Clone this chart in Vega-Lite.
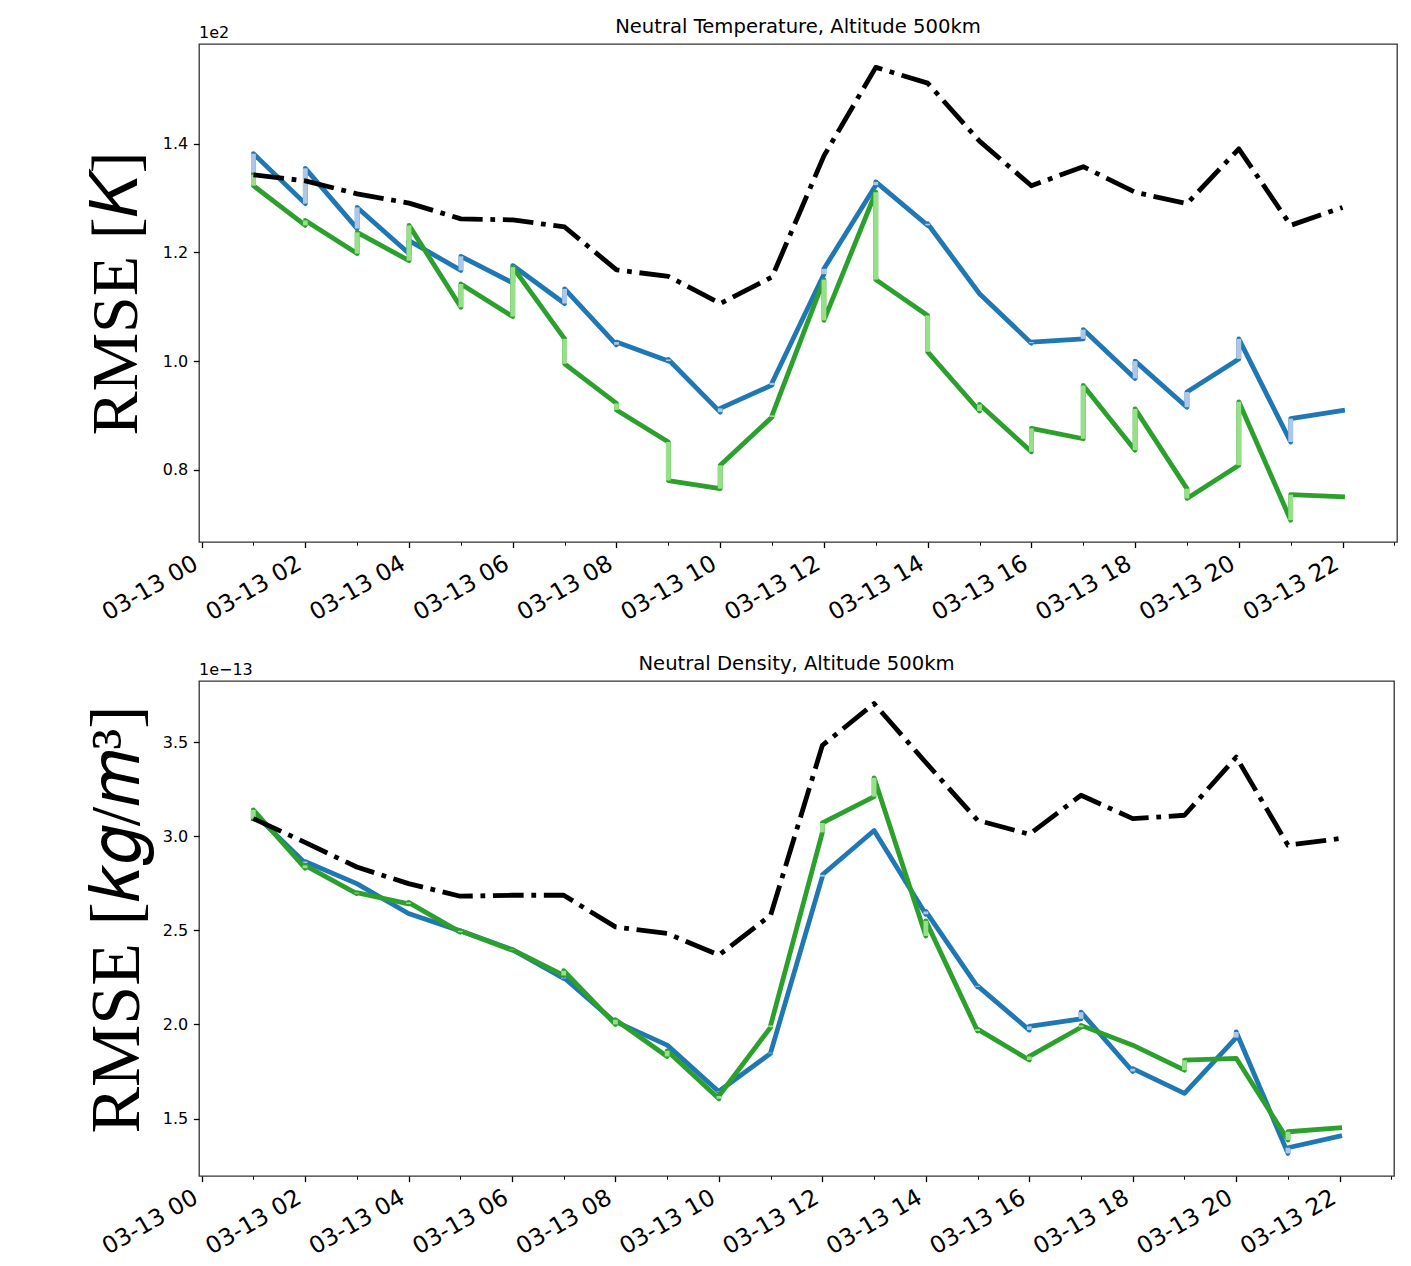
{
  "$schema": "https://vega.github.io/schema/vega-lite/v6.json",
  "background": "white",
  "padding": {"left": 81, "top": 16, "right": 10, "bottom": 0},
  "spacing": 28,
  "config": {
    "font": "DejaVu Sans",
    "view": {"stroke": "#333", "strokeWidth": 1.3},
    "axis": {"grid": false, "domain": false, "tickColor": "#000", "tickWidth": 1.3, "labelColor": "#000", "labelFont": "DejaVu Sans", "titleColor": "#000"},
    "axisY": {"labelFontSize": 16, "tickSize": 5.6, "labelPadding": 5.6, "titleFont": "Liberation Serif", "titleFontSize": 66, "titleFontWeight": "normal", "titlePadding": 12},
    "axisX": {"labelFontSize": 23.5, "labelAngle": -30, "labelAlign": "right", "labelBaseline": "top", "labelPadding": 3.5, "labelOffset": -12, "labelOverlap": false, "labelFlush": false, "labelBound": false},
    "title": {"font": "DejaVu Sans", "fontSize": 19.6, "fontWeight": "normal", "color": "#000", "offset": -13}
  },
  "datasets": {
    "temp_base": [
      {"time": "2015-03-13T01:00:00", "rmse": 134.3},
      {"time": "2015-03-13T02:00:00", "rmse": 133.2},
      {"time": "2015-03-13T03:00:00", "rmse": 130.8},
      {"time": "2015-03-13T04:00:00", "rmse": 129.1},
      {"time": "2015-03-13T05:00:00", "rmse": 126.2},
      {"time": "2015-03-13T06:00:00", "rmse": 126.0},
      {"time": "2015-03-13T07:00:00", "rmse": 124.7},
      {"time": "2015-03-13T08:00:00", "rmse": 116.8},
      {"time": "2015-03-13T09:00:00", "rmse": 115.6},
      {"time": "2015-03-13T10:00:00", "rmse": 110.6},
      {"time": "2015-03-13T11:00:00", "rmse": 115.5},
      {"time": "2015-03-13T12:00:00", "rmse": 137.8},
      {"time": "2015-03-13T13:00:00", "rmse": 154.1},
      {"time": "2015-03-13T14:00:00", "rmse": 151.2},
      {"time": "2015-03-13T15:00:00", "rmse": 140.5},
      {"time": "2015-03-13T16:00:00", "rmse": 132.3},
      {"time": "2015-03-13T17:00:00", "rmse": 135.8},
      {"time": "2015-03-13T18:00:00", "rmse": 131.1},
      {"time": "2015-03-13T19:00:00", "rmse": 129.0},
      {"time": "2015-03-13T20:00:00", "rmse": 139.1},
      {"time": "2015-03-13T21:00:00", "rmse": 125.0},
      {"time": "2015-03-13T22:00:00", "rmse": 128.3}
    ],
    "temp_da": [
      {"time": "2015-03-13T01:00:00", "run": "A", "forecast": 134.3, "update": 138.2},
      {"time": "2015-03-13T02:00:00", "run": "A", "forecast": 129.0, "update": 135.5},
      {"time": "2015-03-13T03:00:00", "run": "A", "forecast": 124.4, "update": 128.3},
      {"time": "2015-03-13T04:00:00", "run": "A", "forecast": 119.8, "update": 122.2},
      {"time": "2015-03-13T05:00:00", "run": "A", "forecast": 116.7, "update": 119.3},
      {"time": "2015-03-13T06:00:00", "run": "A", "forecast": 114.4, "update": 117.6},
      {"time": "2015-03-13T07:00:00", "run": "A", "forecast": 110.6, "update": 113.3},
      {"time": "2015-03-13T08:00:00", "run": "A", "forecast": 103.0, "update": 103.5},
      {"time": "2015-03-13T09:00:00", "run": "A", "forecast": 100.0, "update": 100.3},
      {"time": "2015-03-13T10:00:00", "run": "A", "forecast": 90.6, "update": 91.3},
      {"time": "2015-03-13T11:00:00", "run": "A", "forecast": 95.6, "update": 96.0},
      {"time": "2015-03-13T12:00:00", "run": "A", "forecast": 116.0, "update": 117.0},
      {"time": "2015-03-13T13:00:00", "run": "A", "forecast": 132.4, "update": 133.0},
      {"time": "2015-03-13T14:00:00", "run": "A", "forecast": 125.0, "update": 125.3},
      {"time": "2015-03-13T15:00:00", "run": "A", "forecast": 112.4, "update": 112.4},
      {"time": "2015-03-13T16:00:00", "run": "A", "forecast": 103.3, "update": 103.5},
      {"time": "2015-03-13T17:00:00", "run": "A", "forecast": 104.1, "update": 105.8},
      {"time": "2015-03-13T18:00:00", "run": "A", "forecast": 96.8, "update": 100.0},
      {"time": "2015-03-13T19:00:00", "run": "A", "forecast": 91.5, "update": 94.3},
      {"time": "2015-03-13T20:00:00", "run": "A", "forecast": 100.4, "update": 104.1},
      {"time": "2015-03-13T21:00:00", "run": "A", "forecast": 85.1, "update": 89.4},
      {"time": "2015-03-13T22:00:00", "run": "A", "forecast": 90.9, "update": 90.9},
      {"time": "2015-03-13T01:00:00", "run": "B", "forecast": 134.3, "update": 132.3},
      {"time": "2015-03-13T02:00:00", "run": "B", "forecast": 125.0, "update": 125.9},
      {"time": "2015-03-13T03:00:00", "run": "B", "forecast": 119.8, "update": 123.7},
      {"time": "2015-03-13T04:00:00", "run": "B", "forecast": 118.5, "update": 125.0},
      {"time": "2015-03-13T05:00:00", "run": "B", "forecast": 109.9, "update": 114.2},
      {"time": "2015-03-13T06:00:00", "run": "B", "forecast": 108.2, "update": 117.3},
      {"time": "2015-03-13T07:00:00", "run": "B", "forecast": 104.1, "update": 99.5},
      {"time": "2015-03-13T08:00:00", "run": "B", "forecast": 92.2, "update": 91.0},
      {"time": "2015-03-13T09:00:00", "run": "B", "forecast": 85.1, "update": 78.0},
      {"time": "2015-03-13T10:00:00", "run": "B", "forecast": 76.5, "update": 80.8},
      {"time": "2015-03-13T11:00:00", "run": "B", "forecast": 89.7, "update": 90.0},
      {"time": "2015-03-13T12:00:00", "run": "B", "forecast": 115.0, "update": 107.5},
      {"time": "2015-03-13T13:00:00", "run": "B", "forecast": 131.1, "update": 115.0},
      {"time": "2015-03-13T14:00:00", "run": "B", "forecast": 108.4, "update": 101.7},
      {"time": "2015-03-13T15:00:00", "run": "B", "forecast": 90.8, "update": 92.0},
      {"time": "2015-03-13T16:00:00", "run": "B", "forecast": 83.3, "update": 87.6},
      {"time": "2015-03-13T17:00:00", "run": "B", "forecast": 85.7, "update": 95.5},
      {"time": "2015-03-13T18:00:00", "run": "B", "forecast": 83.6, "update": 91.2},
      {"time": "2015-03-13T19:00:00", "run": "B", "forecast": 76.5, "update": 74.7},
      {"time": "2015-03-13T20:00:00", "run": "B", "forecast": 80.8, "update": 92.5},
      {"time": "2015-03-13T21:00:00", "run": "B", "forecast": 70.7, "update": 75.4},
      {"time": "2015-03-13T22:00:00", "run": "B", "forecast": 75.0, "update": 75.0}
    ],
    "dens_base": [
      {"time": "2015-03-13T01:00:00", "rmse": 3.093e-13},
      {"time": "2015-03-13T02:00:00", "rmse": 2.967e-13},
      {"time": "2015-03-13T03:00:00", "rmse": 2.836e-13},
      {"time": "2015-03-13T04:00:00", "rmse": 2.748e-13},
      {"time": "2015-03-13T05:00:00", "rmse": 2.681e-13},
      {"time": "2015-03-13T06:00:00", "rmse": 2.686e-13},
      {"time": "2015-03-13T07:00:00", "rmse": 2.686e-13},
      {"time": "2015-03-13T08:00:00", "rmse": 2.518e-13},
      {"time": "2015-03-13T09:00:00", "rmse": 2.483e-13},
      {"time": "2015-03-13T10:00:00", "rmse": 2.368e-13},
      {"time": "2015-03-13T11:00:00", "rmse": 2.580e-13},
      {"time": "2015-03-13T12:00:00", "rmse": 3.482e-13},
      {"time": "2015-03-13T13:00:00", "rmse": 3.704e-13},
      {"time": "2015-03-13T14:00:00", "rmse": 3.391e-13},
      {"time": "2015-03-13T15:00:00", "rmse": 3.084e-13},
      {"time": "2015-03-13T16:00:00", "rmse": 3.010e-13},
      {"time": "2015-03-13T17:00:00", "rmse": 3.217e-13},
      {"time": "2015-03-13T18:00:00", "rmse": 3.093e-13},
      {"time": "2015-03-13T19:00:00", "rmse": 3.111e-13},
      {"time": "2015-03-13T20:00:00", "rmse": 3.420e-13},
      {"time": "2015-03-13T21:00:00", "rmse": 2.952e-13},
      {"time": "2015-03-13T22:00:00", "rmse": 2.987e-13}
    ],
    "dens_da": [
      {"time": "2015-03-13T01:00:00", "run": "A", "forecast": 3.093e-13, "update": 3.125e-13},
      {"time": "2015-03-13T02:00:00", "run": "A", "forecast": 2.857e-13, "update": 2.865e-13},
      {"time": "2015-03-13T03:00:00", "run": "A", "forecast": 2.748e-13, "update": 2.748e-13},
      {"time": "2015-03-13T04:00:00", "run": "A", "forecast": 2.589e-13, "update": 2.589e-13},
      {"time": "2015-03-13T05:00:00", "run": "A", "forecast": 2.497e-13, "update": 2.497e-13},
      {"time": "2015-03-13T06:00:00", "run": "A", "forecast": 2.398e-13, "update": 2.398e-13},
      {"time": "2015-03-13T07:00:00", "run": "A", "forecast": 2.244e-13, "update": 2.250e-13},
      {"time": "2015-03-13T08:00:00", "run": "A", "forecast": 2.010e-13, "update": 2.015e-13},
      {"time": "2015-03-13T09:00:00", "run": "A", "forecast": 1.890e-13, "update": 1.890e-13},
      {"time": "2015-03-13T10:00:00", "run": "A", "forecast": 1.642e-13, "update": 1.645e-13},
      {"time": "2015-03-13T11:00:00", "run": "A", "forecast": 1.846e-13, "update": 1.850e-13},
      {"time": "2015-03-13T12:00:00", "run": "A", "forecast": 2.785e-13, "update": 2.795e-13},
      {"time": "2015-03-13T13:00:00", "run": "A", "forecast": 3.030e-13, "update": 3.030e-13},
      {"time": "2015-03-13T14:00:00", "run": "A", "forecast": 2.585e-13, "update": 2.600e-13},
      {"time": "2015-03-13T15:00:00", "run": "A", "forecast": 2.200e-13, "update": 2.205e-13},
      {"time": "2015-03-13T16:00:00", "run": "A", "forecast": 1.970e-13, "update": 1.990e-13},
      {"time": "2015-03-13T17:00:00", "run": "A", "forecast": 2.030e-13, "update": 2.065e-13},
      {"time": "2015-03-13T18:00:00", "run": "A", "forecast": 1.750e-13, "update": 1.765e-13},
      {"time": "2015-03-13T19:00:00", "run": "A", "forecast": 1.634e-13, "update": 1.634e-13},
      {"time": "2015-03-13T20:00:00", "run": "A", "forecast": 1.930e-13, "update": 1.960e-13},
      {"time": "2015-03-13T21:00:00", "run": "A", "forecast": 1.315e-13, "update": 1.345e-13},
      {"time": "2015-03-13T22:00:00", "run": "A", "forecast": 1.407e-13, "update": 1.407e-13},
      {"time": "2015-03-13T01:00:00", "run": "B", "forecast": 3.093e-13, "update": 3.140e-13},
      {"time": "2015-03-13T02:00:00", "run": "B", "forecast": 2.830e-13, "update": 2.845e-13},
      {"time": "2015-03-13T03:00:00", "run": "B", "forecast": 2.695e-13, "update": 2.700e-13},
      {"time": "2015-03-13T04:00:00", "run": "B", "forecast": 2.640e-13, "update": 2.648e-13},
      {"time": "2015-03-13T05:00:00", "run": "B", "forecast": 2.490e-13, "update": 2.497e-13},
      {"time": "2015-03-13T06:00:00", "run": "B", "forecast": 2.395e-13, "update": 2.398e-13},
      {"time": "2015-03-13T07:00:00", "run": "B", "forecast": 2.260e-13, "update": 2.285e-13},
      {"time": "2015-03-13T08:00:00", "run": "B", "forecast": 2.000e-13, "update": 2.025e-13},
      {"time": "2015-03-13T09:00:00", "run": "B", "forecast": 1.830e-13, "update": 1.860e-13},
      {"time": "2015-03-13T10:00:00", "run": "B", "forecast": 1.605e-13, "update": 1.620e-13},
      {"time": "2015-03-13T11:00:00", "run": "B", "forecast": 1.985e-13, "update": 1.995e-13},
      {"time": "2015-03-13T12:00:00", "run": "B", "forecast": 3.020e-13, "update": 3.070e-13},
      {"time": "2015-03-13T13:00:00", "run": "B", "forecast": 3.210e-13, "update": 3.310e-13},
      {"time": "2015-03-13T14:00:00", "run": "B", "forecast": 2.470e-13, "update": 2.550e-13},
      {"time": "2015-03-13T15:00:00", "run": "B", "forecast": 1.965e-13, "update": 1.975e-13},
      {"time": "2015-03-13T16:00:00", "run": "B", "forecast": 1.811e-13, "update": 1.830e-13},
      {"time": "2015-03-13T17:00:00", "run": "B", "forecast": 1.985e-13, "update": 1.995e-13},
      {"time": "2015-03-13T18:00:00", "run": "B", "forecast": 1.890e-13, "update": 1.890e-13},
      {"time": "2015-03-13T19:00:00", "run": "B", "forecast": 1.757e-13, "update": 1.810e-13},
      {"time": "2015-03-13T20:00:00", "run": "B", "forecast": 1.820e-13, "update": 1.820e-13},
      {"time": "2015-03-13T21:00:00", "run": "B", "forecast": 1.386e-13, "update": 1.430e-13},
      {"time": "2015-03-13T22:00:00", "run": "B", "forecast": 1.451e-13, "update": 1.451e-13}
    ]
  },
  "vconcat": [
    {
      "width": 1198,
      "height": 498,
      "title": "Neutral Temperature, Altitude 500km",
      "layer": [
        {
          "data": {"name": "temp_da"},
          "transform": [{"filter": "datum.run == 'A'"}, {"fold": ["forecast", "update"], "as": ["stage", "rmse"]}],
          "mark": {"type": "line", "color": "#1f77b4", "strokeWidth": 4.8, "strokeJoin": "round", "strokeCap": "square"},
          "encoding": {
            "x": {"field": "time", "type": "temporal", "title": null,
              "scale": {"domain": [{"year": 2015, "month": 3, "date": 12, "hours": 23, "minutes": 57}, {"year": 2015, "month": 3, "date": 13, "hours": 23, "minutes": 3}], "nice": false},
              "axis": {"title": null,
                "values": [{"year": 2015, "month": 3, "date": 13, "hours": 0}, {"year": 2015, "month": 3, "date": 13, "hours": 1}, {"year": 2015, "month": 3, "date": 13, "hours": 2}, {"year": 2015, "month": 3, "date": 13, "hours": 3}, {"year": 2015, "month": 3, "date": 13, "hours": 4}, {"year": 2015, "month": 3, "date": 13, "hours": 5}, {"year": 2015, "month": 3, "date": 13, "hours": 6}, {"year": 2015, "month": 3, "date": 13, "hours": 7}, {"year": 2015, "month": 3, "date": 13, "hours": 8}, {"year": 2015, "month": 3, "date": 13, "hours": 9}, {"year": 2015, "month": 3, "date": 13, "hours": 10}, {"year": 2015, "month": 3, "date": 13, "hours": 11}, {"year": 2015, "month": 3, "date": 13, "hours": 12}, {"year": 2015, "month": 3, "date": 13, "hours": 13}, {"year": 2015, "month": 3, "date": 13, "hours": 14}, {"year": 2015, "month": 3, "date": 13, "hours": 15}, {"year": 2015, "month": 3, "date": 13, "hours": 16}, {"year": 2015, "month": 3, "date": 13, "hours": 17}, {"year": 2015, "month": 3, "date": 13, "hours": 18}, {"year": 2015, "month": 3, "date": 13, "hours": 19}, {"year": 2015, "month": 3, "date": 13, "hours": 20}, {"year": 2015, "month": 3, "date": 13, "hours": 21}, {"year": 2015, "month": 3, "date": 13, "hours": 22}, {"year": 2015, "month": 3, "date": 13, "hours": 23}],
                "labelExpr": "hours(datum.value) % 2 == 0 ? timeFormat(datum.value, '%m-%d %H') : ''",
                "tickSize": {"condition": {"test": "hours(datum.value) % 2 == 1", "value": 3.2}, "value": 5.6},
                "tickWidth": {"condition": {"test": "hours(datum.value) % 2 == 1", "value": 1.0}, "value": 1.3}
              }
            },
            "y": {"field": "rmse", "type": "quantitative", "title": "RMSE [𝐾]",
              "scale": {"domain": [66.68, 158.4], "nice": false, "zero": false},
              "axis": {"title": "RMSE [𝐾]", "values": [80, 100, 120, 140], "labelExpr": "format(datum.value / 100, '.1f')"}
            },
            "order": [{"field": "time", "type": "temporal"}, {"field": "stage", "type": "ordinal"}]
          }
        },
        {
          "data": {"name": "temp_da"},
          "transform": [{"filter": "datum.run == 'A'"}],
          "mark": {"type": "rule", "color": "#aec7e8", "strokeWidth": 4.8, "strokeCap": "butt"},
          "encoding": {
            "x": {"field": "time", "type": "temporal", "title": null},
            "y": {"field": "forecast", "type": "quantitative", "title": "RMSE [𝐾]"},
            "y2": {"field": "update"}
          }
        },
        {
          "data": {"name": "temp_da"},
          "transform": [{"filter": "datum.run == 'B'"}, {"fold": ["forecast", "update"], "as": ["stage", "rmse"]}],
          "mark": {"type": "line", "color": "#2ca02c", "strokeWidth": 4.8, "strokeJoin": "round", "strokeCap": "square"},
          "encoding": {
            "x": {"field": "time", "type": "temporal", "title": null},
            "y": {"field": "rmse", "type": "quantitative", "title": "RMSE [𝐾]"},
            "order": [{"field": "time", "type": "temporal"}, {"field": "stage", "type": "ordinal"}]
          }
        },
        {
          "data": {"name": "temp_da"},
          "transform": [{"filter": "datum.run == 'B'"}],
          "mark": {"type": "rule", "color": "#98df8a", "strokeWidth": 4.8, "strokeCap": "butt"},
          "encoding": {
            "x": {"field": "time", "type": "temporal", "title": null},
            "y": {"field": "forecast", "type": "quantitative", "title": "RMSE [𝐾]"},
            "y2": {"field": "update"}
          }
        },
        {
          "data": {"name": "temp_base"},
          "mark": {"type": "line", "color": "#000", "strokeWidth": 4.8, "strokeDash": [30.7, 7.7, 4.8, 7.7], "strokeCap": "butt", "strokeJoin": "round"},
          "encoding": {
            "x": {"field": "time", "type": "temporal", "title": null},
            "y": {"field": "rmse", "type": "quantitative", "title": "RMSE [𝐾]"}
          }
        },
        {
          "data": {"values": [{}]},
          "mark": {"type": "text", "text": "1e2", "align": "left", "baseline": "alphabetic", "dy": -6, "fontSize": 16, "color": "#000"},
          "encoding": {
            "x": {"datum": {"year": 2015, "month": 3, "date": 12, "hours": 23, "minutes": 57}, "type": "temporal"},
            "y": {"datum": 158.4, "type": "quantitative"}
          }
        }
      ]
    },
    {
      "width": 1195,
      "height": 495,
      "title": "Neutral Density, Altitude 500km",
      "layer": [
        {
          "data": {"name": "dens_da"},
          "transform": [{"filter": "datum.run == 'A'"}, {"fold": ["forecast", "update"], "as": ["stage", "rmse"]}],
          "mark": {"type": "line", "color": "#1f77b4", "strokeWidth": 4.8, "strokeJoin": "round", "strokeCap": "square"},
          "encoding": {
            "x": {"field": "time", "type": "temporal", "title": null,
              "scale": {"domain": [{"year": 2015, "month": 3, "date": 12, "hours": 23, "minutes": 57}, {"year": 2015, "month": 3, "date": 13, "hours": 23, "minutes": 3}], "nice": false},
              "axis": {"title": null,
                "values": [{"year": 2015, "month": 3, "date": 13, "hours": 0}, {"year": 2015, "month": 3, "date": 13, "hours": 1}, {"year": 2015, "month": 3, "date": 13, "hours": 2}, {"year": 2015, "month": 3, "date": 13, "hours": 3}, {"year": 2015, "month": 3, "date": 13, "hours": 4}, {"year": 2015, "month": 3, "date": 13, "hours": 5}, {"year": 2015, "month": 3, "date": 13, "hours": 6}, {"year": 2015, "month": 3, "date": 13, "hours": 7}, {"year": 2015, "month": 3, "date": 13, "hours": 8}, {"year": 2015, "month": 3, "date": 13, "hours": 9}, {"year": 2015, "month": 3, "date": 13, "hours": 10}, {"year": 2015, "month": 3, "date": 13, "hours": 11}, {"year": 2015, "month": 3, "date": 13, "hours": 12}, {"year": 2015, "month": 3, "date": 13, "hours": 13}, {"year": 2015, "month": 3, "date": 13, "hours": 14}, {"year": 2015, "month": 3, "date": 13, "hours": 15}, {"year": 2015, "month": 3, "date": 13, "hours": 16}, {"year": 2015, "month": 3, "date": 13, "hours": 17}, {"year": 2015, "month": 3, "date": 13, "hours": 18}, {"year": 2015, "month": 3, "date": 13, "hours": 19}, {"year": 2015, "month": 3, "date": 13, "hours": 20}, {"year": 2015, "month": 3, "date": 13, "hours": 21}, {"year": 2015, "month": 3, "date": 13, "hours": 22}, {"year": 2015, "month": 3, "date": 13, "hours": 23}],
                "labelExpr": "hours(datum.value) % 2 == 0 ? timeFormat(datum.value, '%m-%d %H') : ''",
                "tickSize": {"condition": {"test": "hours(datum.value) % 2 == 1", "value": 3.2}, "value": 5.6},
                "tickWidth": {"condition": {"test": "hours(datum.value) % 2 == 1", "value": 1.0}, "value": 1.3}
              }
            },
            "y": {"field": "rmse", "type": "quantitative", "title": "RMSE [𝑘𝑔/𝑚³]",
              "scale": {"domain": [1.195e-13, 3.824e-13], "nice": false, "zero": false},
              "axis": {"title": "RMSE [𝑘𝑔/𝑚³]", "titleFontSize": 70, "titlePadding": 9, "titleY": 238, "values": [1.5e-13, 2e-13, 2.5e-13, 3e-13, 3.5e-13], "labelExpr": "format(datum.value * 1e13, '.1f')"}
            },
            "order": [{"field": "time", "type": "temporal"}, {"field": "stage", "type": "ordinal"}]
          }
        },
        {
          "data": {"name": "dens_da"},
          "transform": [{"filter": "datum.run == 'A'"}],
          "mark": {"type": "rule", "color": "#aec7e8", "strokeWidth": 4.8, "strokeCap": "butt"},
          "encoding": {
            "x": {"field": "time", "type": "temporal", "title": null},
            "y": {"field": "forecast", "type": "quantitative", "title": "RMSE [𝑘𝑔/𝑚³]"},
            "y2": {"field": "update"}
          }
        },
        {
          "data": {"name": "dens_da"},
          "transform": [{"filter": "datum.run == 'B'"}, {"fold": ["forecast", "update"], "as": ["stage", "rmse"]}],
          "mark": {"type": "line", "color": "#2ca02c", "strokeWidth": 4.8, "strokeJoin": "round", "strokeCap": "square"},
          "encoding": {
            "x": {"field": "time", "type": "temporal", "title": null},
            "y": {"field": "rmse", "type": "quantitative", "title": "RMSE [𝑘𝑔/𝑚³]"},
            "order": [{"field": "time", "type": "temporal"}, {"field": "stage", "type": "ordinal"}]
          }
        },
        {
          "data": {"name": "dens_da"},
          "transform": [{"filter": "datum.run == 'B'"}],
          "mark": {"type": "rule", "color": "#98df8a", "strokeWidth": 4.8, "strokeCap": "butt"},
          "encoding": {
            "x": {"field": "time", "type": "temporal", "title": null},
            "y": {"field": "forecast", "type": "quantitative", "title": "RMSE [𝑘𝑔/𝑚³]"},
            "y2": {"field": "update"}
          }
        },
        {
          "data": {"name": "dens_base"},
          "mark": {"type": "line", "color": "#000", "strokeWidth": 4.8, "strokeDash": [30.7, 7.7, 4.8, 7.7], "strokeCap": "butt", "strokeJoin": "round"},
          "encoding": {
            "x": {"field": "time", "type": "temporal", "title": null},
            "y": {"field": "rmse", "type": "quantitative", "title": "RMSE [𝑘𝑔/𝑚³]"}
          }
        },
        {
          "data": {"values": [{}]},
          "mark": {"type": "text", "text": "1e−13", "align": "left", "baseline": "alphabetic", "dy": -6, "fontSize": 16, "color": "#000"},
          "encoding": {
            "x": {"datum": {"year": 2015, "month": 3, "date": 12, "hours": 23, "minutes": 57}, "type": "temporal"},
            "y": {"datum": 3.824e-13, "type": "quantitative"}
          }
        }
      ]
    }
  ]
}
